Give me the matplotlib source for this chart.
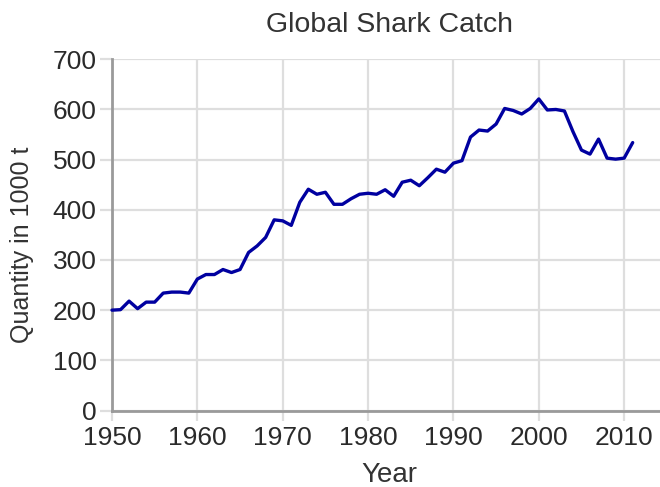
import matplotlib
matplotlib.use("Agg")
import matplotlib.pyplot as plt

years = list(range(1950, 2012))
catch = [200, 201, 218, 203, 216, 216, 234, 236, 236, 234,
         262, 271, 271, 281, 275, 281, 315, 328, 345, 380,
         378, 369, 415, 441, 431, 435, 411, 411, 422, 431,
         433, 431, 440, 427, 455, 459, 448, 464, 481, 475,
         493, 498, 545, 559, 557, 571, 602, 598, 591, 602,
         621, 599, 600, 597, 556, 519, 511, 541, 503, 501,
         503, 534]
xticks = [1950, 1960, 1970, 1980, 1990, 2000, 2010]
yticks = [0, 100, 200, 300, 400, 500, 600, 700]
title = "Global Shark Catch"
xlabel = "Year"
ylabel = "Quantity in 1000 t"

plt.rcParams['font.family'] = ['Liberation Sans', 'DejaVu Sans']

W, H = 660, 487
fig = plt.figure(figsize=(W / 100, H / 100), dpi=100)
ax = fig.add_axes([112 / W, 1 - 410.5 / H, (W - 112) / W, (410.5 - 59.3) / H])

grid_c = '#dedede'
ax.set_xlim(1950, 2014.2)
ax.set_ylim(0, 700)
ax.set_xticks(xticks)
ax.set_yticks(yticks)
ax.grid(True, color=grid_c, linewidth=1.6, zorder=0)
ax.set_axisbelow(True)

ax.plot(years, catch, color='#0000a0', linewidth=2.4, zorder=3,
        solid_joinstyle='round', solid_capstyle='round', clip_on=False)

for s in ['top', 'right']:
    ax.spines[s].set_visible(False)
for s in ['left', 'bottom']:
    ax.spines[s].set_color('#9a9a9a')
    ax.spines[s].set_linewidth(2.0)
    ax.spines[s].set_zorder(2)

ax.tick_params(axis='y', length=9, width=1.6, color=grid_c, pad=2,
               labelsize=19, labelcolor='#2a2a2a')
ax.tick_params(axis='x', length=7.5, width=1.6, color=grid_c, pad=4,
               labelsize=19, labelcolor='#2a2a2a')

fig.text(390 / W, 1 - 25 / H, title, ha='center', va='center',
         fontsize=20.5, color='#333333')
fig.text(389 / W, 1 - 475 / H, xlabel, ha='center', va='center',
         fontsize=20, color='#333333')
fig.text(22 / W, 1 - 245 / H, ylabel, ha='center', va='center',
         rotation=90, fontsize=18, color='#333333')

fig.savefig('out.png', dpi=100)
